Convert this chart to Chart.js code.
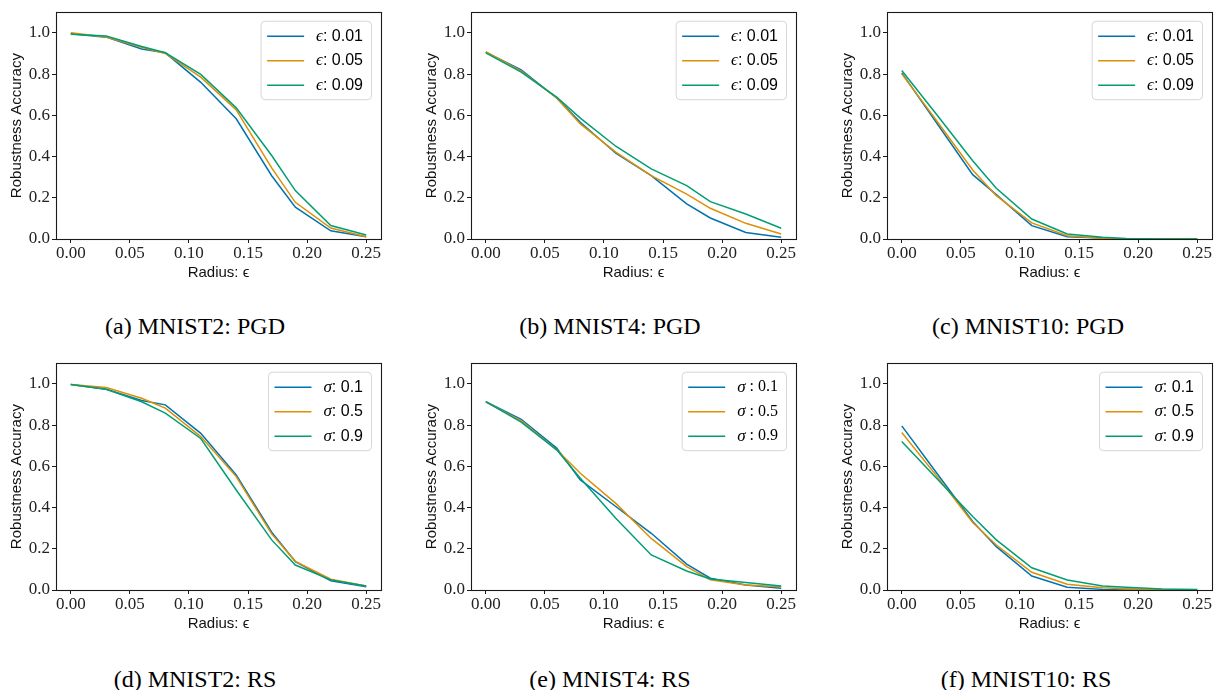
<!DOCTYPE html>
<html>
<head>
<meta charset="utf-8">
<script src="https://cdn.jsdelivr.net/npm/chart.js@4.4.1/dist/chart.umd.min.js"></script>
<style>
  html, body { margin: 0; padding: 0; background: #fff; overflow: hidden; width: 1214px; height: 690px; }
  canvas { position: absolute; }
  .cap { position: absolute; width: 400px; text-align: center; font: 24px "Liberation Serif", "Times New Roman", serif; line-height: 24px; color: #000; white-space: nowrap; }
</style>
</head>
<body>
<script>
// ---------------- data ----------------
const radius = [0, 0.03, 0.06, 0.08, 0.11, 0.14, 0.17, 0.19, 0.22, 0.25];
const xTicks = [0, 0.05, 0.10, 0.15, 0.20, 0.25];
const yTicks = [0, 0.2, 0.4, 0.6, 0.8, 1.0];

const pgdLabels = ['ϵ: 0.01', 'ϵ: 0.05', 'ϵ: 0.09'];
const rsLabels = ['σ: 0.1', 'σ: 0.5', 'σ: 0.9'];
const rsLabelsSpaced = ['σ : 0.1', 'σ : 0.5', 'σ : 0.9'];

const mnist2PgdE01 = [0.995, 0.979, 0.922, 0.903, 0.760, 0.583, 0.307, 0.154, 0.040, 0.011];
const mnist2PgdE05 = [1.000, 0.980, 0.930, 0.900, 0.785, 0.626, 0.345, 0.178, 0.053, 0.011];
const mnist2PgdE09 = [0.993, 0.984, 0.934, 0.903, 0.798, 0.636, 0.405, 0.235, 0.065, 0.019];

const mnist4PgdE01 = [0.906, 0.820, 0.684, 0.566, 0.416, 0.307, 0.170, 0.102, 0.032, 0.008];
const mnist4PgdE05 = [0.909, 0.814, 0.684, 0.558, 0.421, 0.307, 0.218, 0.149, 0.076, 0.024];
const mnist4PgdE09 = [0.903, 0.809, 0.688, 0.586, 0.450, 0.340, 0.259, 0.181, 0.121, 0.052];

const mnist10PgdE01 = [0.806, 0.559, 0.312, 0.215, 0.065, 0.011, 0.005, 0.000, 0.000, 0.000];
const mnist10PgdE05 = [0.801, 0.570, 0.335, 0.210, 0.078, 0.016, 0.003, 0.000, 0.000, 0.000];
const mnist10PgdE09 = [0.817, 0.600, 0.380, 0.246, 0.097, 0.024, 0.008, 0.003, 0.000, 0.000];

const mnist2RsS1 = [0.997, 0.974, 0.919, 0.898, 0.760, 0.558, 0.280, 0.138, 0.045, 0.016];
const mnist2RsS5 = [0.997, 0.982, 0.930, 0.882, 0.744, 0.550, 0.272, 0.139, 0.052, 0.019];
const mnist2RsS9 = [0.997, 0.974, 0.913, 0.858, 0.735, 0.485, 0.243, 0.121, 0.049, 0.019];

const mnist4RsS1 = [0.914, 0.828, 0.688, 0.534, 0.405, 0.275, 0.126, 0.057, 0.024, 0.008];
const mnist4RsS5 = [0.911, 0.820, 0.680, 0.566, 0.420, 0.250, 0.113, 0.049, 0.024, 0.016];
const mnist4RsS9 = [0.914, 0.814, 0.680, 0.542, 0.348, 0.170, 0.092, 0.053, 0.036, 0.019];

const mnist10RsS1 = [0.796, 0.564, 0.332, 0.210, 0.068, 0.013, 0.003, 0.000, 0.000, 0.000];
const mnist10RsS5 = [0.764, 0.550, 0.327, 0.218, 0.086, 0.028, 0.011, 0.006, 0.002, 0.000];
const mnist10RsS9 = [0.720, 0.538, 0.356, 0.243, 0.108, 0.049, 0.019, 0.013, 0.005, 0.002];

const captions = ['(a) MNIST2: PGD', '(b) MNIST4: PGD', '(c) MNIST10: PGD',
                  '(d) MNIST2: RS', '(e) MNIST4: RS', '(f) MNIST10: RS'];
const yTitle = 'Robustness Accuracy';
const xTitle = 'Radius: ϵ';

// ---------------- style ----------------
const COLORS = ['#0173b2', '#de8f05', '#029e73'];
const SERIF = '"Liberation Serif", "DejaVu Serif", serif';
const SANS = '"Liberation Sans", "DejaVu Sans", sans-serif';

const panels = [
  { ax: 56,  ay: 12,  series: [mnist2PgdE01, mnist2PgdE05, mnist2PgdE09], labels: pgdLabels, restSerif: false, cap: 0, cx: 195, cy: 314 },
  { ax: 471, ay: 12,  series: [mnist4PgdE01, mnist4PgdE05, mnist4PgdE09], labels: pgdLabels, restSerif: false, cap: 1, cx: 610, cy: 314 },
  { ax: 887, ay: 12,  series: [mnist10PgdE01, mnist10PgdE05, mnist10PgdE09], labels: pgdLabels, restSerif: false, cap: 2, cx: 1028, cy: 314 },
  { ax: 56,  ay: 363, series: [mnist2RsS1, mnist2RsS5, mnist2RsS9], labels: rsLabels, restSerif: false, cap: 3, cx: 195, cy: 667 },
  { ax: 471, ay: 363, series: [mnist4RsS1, mnist4RsS5, mnist4RsS9], labels: rsLabelsSpaced, restSerif: true, cap: 4, cx: 610, cy: 667 },
  { ax: 887, ay: 363, series: [mnist10RsS1, mnist10RsS5, mnist10RsS9], labels: rsLabels, restSerif: false, cap: 5, cx: 1026, cy: 667 }
];

const AW = 325, AH = 227, PADL = 56, PADT = 12, PADR = 4, PADB = 48;

const frameLegendPlugin = {
  id: 'frameLegend',
  afterDraw(chart, args, opts) {
    const ctx = chart.ctx, ca = chart.chartArea;
    ctx.save();
    // spines
    ctx.strokeStyle = '#1a1a1a';
    ctx.lineWidth = 1.1;
    ctx.strokeRect(Math.round(ca.left) + 0.5, Math.round(ca.top) + 0.5, Math.round(ca.right - ca.left), Math.round(ca.bottom - ca.top));
    // legend
    const symFont = 'italic 17px ' + SERIF;
    const restFont = opts.restSerif ? ('16px ' + SERIF) : ('16px ' + SANS);
    const items = chart.data.datasets.map(d => {
      const sym = d.label.charAt(0), rest = d.label.slice(1);
      ctx.font = symFont; const w1 = ctx.measureText(sym).width;
      ctx.font = restFont; const w2 = ctx.measureText(rest).width;
      return { sym, rest, w1, w2, color: d.borderColor };
    });
    const textW = Math.max(...items.map(i => i.w1 + i.w2));
    const bw = 55 + textW + 8.5, bh = 78.5;
    const bx = ca.right - 9.5 - bw, by = ca.top + 9;
    ctx.beginPath();
    const r = 4;
    ctx.moveTo(bx + r, by);
    ctx.arcTo(bx + bw, by, bx + bw, by + bh, r);
    ctx.arcTo(bx + bw, by + bh, bx, by + bh, r);
    ctx.arcTo(bx, by + bh, bx, by, r);
    ctx.arcTo(bx, by, bx + bw, by, r);
    ctx.closePath();
    ctx.fillStyle = 'rgba(255,255,255,0.85)';
    ctx.fill();
    ctx.strokeStyle = '#d6d6d6';
    ctx.lineWidth = 1;
    ctx.stroke();
    items.forEach((it, i) => {
      const yy = by + 15 + i * 24.5;
      ctx.strokeStyle = it.color;
      ctx.lineWidth = 1.5;
      ctx.beginPath();
      ctx.moveTo(bx + 6, yy);
      ctx.lineTo(bx + 43, yy);
      ctx.stroke();
      ctx.fillStyle = '#000';
      ctx.textBaseline = 'middle';
      ctx.textAlign = 'left';
      ctx.font = symFont;
      ctx.fillText(it.sym, bx + 55, yy);
      ctx.font = restFont;
      ctx.fillText(it.rest, bx + 55 + it.w1, yy);
    });
    ctx.restore();
  }
};

panels.forEach(p => {
  const cv = document.createElement('canvas');
  const W = AW + PADL + PADR, H = AH + PADT + PADB;
  cv.width = W; cv.height = H;
  cv.style.left = (p.ax - PADL) + 'px';
  cv.style.top = (p.ay - PADT) + 'px';
  cv.style.width = W + 'px'; cv.style.height = H + 'px';
  document.body.appendChild(cv);

  const cap = document.createElement('div');
  cap.className = 'cap';
  cap.textContent = captions[p.cap];
  cap.style.left = (p.cx - 200) + 'px';
  cap.style.top = p.cy + 'px';
  document.body.appendChild(cap);

  new Chart(cv, {
    type: 'line',
    data: {
      datasets: p.series.map((s, i) => ({
        label: p.labels[i],
        data: radius.map((x, k) => ({ x: x, y: s[k] })),
        borderColor: COLORS[i],
        backgroundColor: COLORS[i],
        borderWidth: 1.5,
        pointRadius: 0,
        tension: 0,
        fill: false,
        order: 3 - i
      }))
    },
    options: {
      responsive: false,
      animation: false,
      devicePixelRatio: 1,
      layout: { padding: { left: 0, top: PADT, right: PADR, bottom: 0 } },
      plugins: {
        legend: { display: false },
        tooltip: { enabled: false },
        frameLegend: { restSerif: p.restSerif }
      },
      scales: {
        x: {
          type: 'linear',
          min: -0.0125, max: 0.2625,
          afterFit: s => { s.height = PADB; },
          afterBuildTicks: s => { s.ticks = xTicks.map(v => ({ value: v })); },
          grid: { drawOnChartArea: false, drawTicks: true, tickLength: 4, color: '#1a1a1a', lineWidth: 1 },
          border: { display: true, color: '#1a1a1a', width: 1 },
          ticks: {
            autoSkip: false, maxRotation: 0, padding: 0,
            color: '#222',
            font: { family: SERIF, size: 17 },
            callback: v => Number(v).toFixed(2)
          },
          title: {
            display: true, text: xTitle, color: '#111',
            font: { family: SANS, size: 15 },
            padding: { top: 5.5, bottom: 5.5 }
          }
        },
        y: {
          type: 'linear',
          min: 0, max: 1.1,
          afterFit: s => { s.width = PADL; },
          afterBuildTicks: s => { s.ticks = yTicks.map(v => ({ value: v })); },
          grid: { drawOnChartArea: false, drawTicks: true, tickLength: 4, color: '#1a1a1a', lineWidth: 1 },
          border: { display: true, color: '#1a1a1a', width: 1 },
          ticks: {
            autoSkip: false, padding: 2,
            color: '#222',
            font: { family: SERIF, size: 17 },
            callback: v => Number(v).toFixed(1)
          },
          title: {
            display: true, text: yTitle, color: '#111',
            font: { family: SANS, size: 15 },
            padding: { top: 8, bottom: 0 }
          }
        }
      }
    },
    plugins: [frameLegendPlugin]
  });
});
</script>
</body>
</html>
